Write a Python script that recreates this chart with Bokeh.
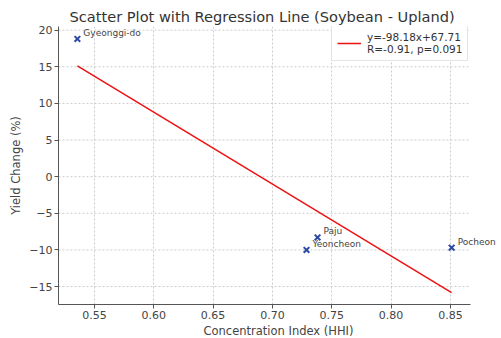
from bokeh.plotting import figure
from bokeh.models import ColumnDataSource, Range1d, Legend, LegendItem, FixedTicker
from bokeh.embed import file_html
from bokeh.resources import INLINE
from bokeh.core.properties import value

regions = ["Gyeonggi-do", "Paju", "Yeoncheon", "Pocheon"]
hhi = [0.5356, 0.738, 0.7287, 0.851]
yield_change = [18.8, -8.3, -10.0, -9.7]
slope = -98.18
intercept = 67.71
legend_label = "y=-98.18x+67.71\nR=-0.91, p=0.091"
x_ticks = [0.55, 0.60, 0.65, 0.70, 0.75, 0.80, 0.85]
y_ticks = [-15, -10, -5, 0, 5, 10, 15, 20]

FONT = "DejaVu Sans"

# axes extent (data) and an extra margin on the right for the point labels
X_LO, X_HI, X_PAD_HI = 0.5197, 0.8669, 0.8905
Y_LO, Y_HI = -17.45, 20.5

p = figure(output_backend="svg", toolbar_location=None,
           frame_width=440, frame_height=278,
           x_range=Range1d(X_LO, X_PAD_HI), y_range=Range1d(Y_LO, Y_HI),
           min_border_left=58, min_border_top=26, min_border_right=0, min_border_bottom=4)
p.outline_line_color = None
p.background_fill_color = "white"

p.title.text = "Scatter Plot with Regression Line (Soybean - Upland)"
p.title.align = "left"
p.title.offset = 11
p.title.text_font = FONT
p.title.text_font_size = "14.6px"
p.title.text_font_style = "normal"
p.title.text_color = "#333333"
p.title.standoff = 3

for ax in (p.xaxis[0], p.yaxis[0]):
    ax.axis_line_color = "#555555"
    ax.major_tick_line_color = "#555555"
    ax.major_tick_out = 4
    ax.major_tick_in = 0
    ax.minor_tick_line_color = None
    ax.major_label_text_font = FONT
    ax.major_label_text_font_size = "11px"
    ax.major_label_text_color = "#444444"
    ax.axis_label_text_font = FONT
    ax.axis_label_text_font_size = "11.5px"
    ax.axis_label_text_font_style = "normal"
    ax.axis_label_text_color = "#444444"
    ax.major_label_standoff = 2

p.xaxis.bounds = (X_LO, X_HI)
p.xaxis.axis_label_standoff = 2
p.yaxis.axis_label_standoff = 3
p.xaxis.axis_label = "Concentration Index (HHI)"
p.yaxis.axis_label = "Yield Change (%)"
p.xaxis.ticker = FixedTicker(ticks=x_ticks)
p.yaxis.ticker = FixedTicker(ticks=y_ticks)
p.xaxis.major_label_overrides = {t: f"{t:.2f}" for t in x_ticks}
p.yaxis.major_label_overrides = {t: ("\u2212" + str(abs(t)) if t < 0 else str(t)) for t in y_ticks}

p.xgrid.grid_line_color = "#cccccc"
p.xgrid.grid_line_dash = "2 2"
p.ygrid.visible = False
# horizontal grid lines limited to the axes extent
p.segment(x0=[X_LO] * len(y_ticks), x1=[X_HI] * len(y_ticks), y0=y_ticks, y1=y_ticks,
          line_color="#cccccc", line_dash="2 2", line_width=1, level="underlay")

src = ColumnDataSource(dict(x=hhi, y=yield_change, name=regions))
p.scatter("x", "y", source=src, marker="x", size=8, line_color="#2c49a6", line_width=2)
p.text("x", "y", text="name", source=src, x_offset=6, y_offset=-1,
       text_font=value(FONT), text_font_size="9px", text_color="#444444",
       text_baseline="bottom", text_align="left")

xl = [min(hhi), max(hhi)]
yl = [slope * v + intercept for v in xl]
line = p.line(xl, yl, line_color="#ee1111", line_width=1.5)

legend = Legend(items=[LegendItem(label=legend_label, renderers=[line])],
                location=(273, 243))
legend.label_text_font = FONT
legend.label_text_font_size = "10.5px"
legend.label_text_color = "#333333"
legend.label_text_line_height = 1.0
legend.border_line_color = "#cccccc"
legend.border_line_width = 1
legend.background_fill_alpha = 0.85
legend.margin = 0
legend.padding = 5
legend.glyph_width = 24
legend.label_standoff = 6
p.add_layout(legend)

open("out.html", "w").write(file_html(p, INLINE))
